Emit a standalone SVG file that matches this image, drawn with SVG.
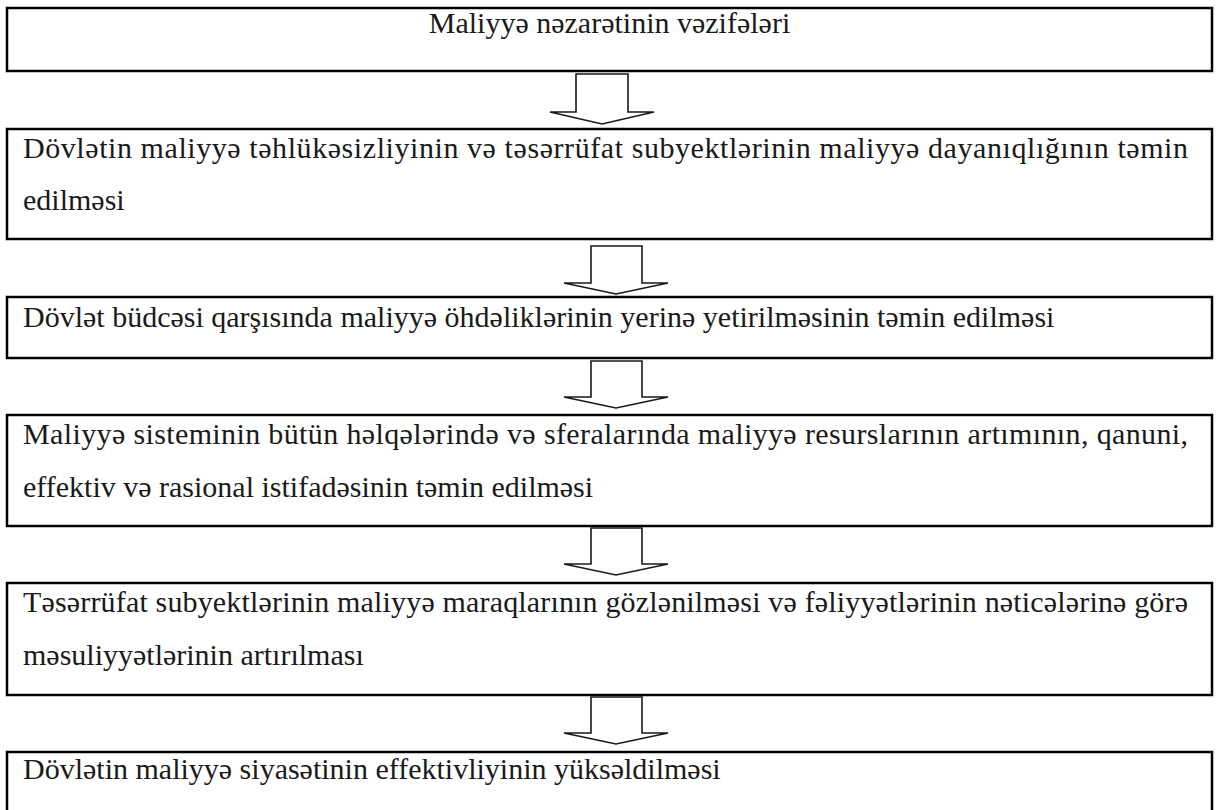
<svg xmlns="http://www.w3.org/2000/svg" width="1219" height="810" viewBox="0 0 1219 810">
<style>
  .box { fill: #ffffff; stroke: #000000; stroke-width: 2.5; }
  .t { font-family: "Liberation Serif", "Times New Roman", serif; font-size: 30px; fill: #1a1a1a; }
  .arrow { fill: #ffffff; stroke: #1a1a1a; stroke-width: 1.6; stroke-linejoin: miter; }
</style>
<rect x="0" y="0" width="1219" height="810" fill="#ffffff"/>

<g id="node-vezifeler">
  <rect class="box" x="7" y="8" width="1205" height="63"/>
  <text class="t" x="609.5" y="33" text-anchor="middle">Maliyyə nəzarətinin vəzifələri</text>
</g>

<g id="node-tehlukesizlik">
  <rect class="box" x="7" y="129" width="1205" height="110"/>
  <text class="t" x="23" y="158" textLength="1165" lengthAdjust="spacing">Dövlətin maliyyə təhlükəsizliyinin və təsərrüfat subyektlərinin maliyyə dayanıqlığının təmin</text>
  <text class="t" x="23" y="210">edilməsi</text>
</g>

<g id="node-budce">
  <rect class="box" x="7" y="297" width="1205" height="61"/>
  <text class="t" x="23" y="327">Dövlət büdcəsi qarşısında maliyyə öhdəliklərinin yerinə yetirilməsinin təmin edilməsi</text>
</g>

<g id="node-resurslar">
  <rect class="box" x="7" y="415" width="1205" height="111"/>
  <text class="t" x="23" y="444" textLength="1165" lengthAdjust="spacing">Maliyyə sisteminin bütün həlqələrində və sferalarında maliyyə resurslarının artımının, qanuni,</text>
  <text class="t" x="23" y="497">effektiv və rasional istifadəsinin təmin edilməsi</text>
</g>

<g id="node-maraqlar">
  <rect class="box" x="7" y="583" width="1205" height="112"/>
  <text class="t" x="23" y="612" textLength="1165" lengthAdjust="spacing">Təsərrüfat subyektlərinin maliyyə maraqlarının gözlənilməsi və fəliyyətlərinin nəticələrinə görə</text>
  <text class="t" x="23" y="665">məsuliyyətlərinin artırılması</text>
</g>

<g id="node-siyaset">
  <rect class="box" x="7" y="752" width="1205" height="70"/>
  <text class="t" x="23" y="779">Dövlətin maliyyə siyasətinin effektivliyinin yüksəldilməsi</text>
</g>

<g id="connectors">
  <path class="arrow" d="M576,74 H628 V112 H654 L602,124 L550,112 H576 Z"/>
  <path class="arrow" d="M591,246 H642 V283 H668 L616,294 L564,283 H591 Z"/>
  <path class="arrow" d="M591,361 H642 V397 H668 L616,408 L564,397 H591 Z"/>
  <path class="arrow" d="M591,528 H642 V564 H668 L616,575 L564,564 H591 Z"/>
  <path class="arrow" d="M591,697 H642 V733 H668 L616,744 L564,733 H591 Z"/>
</g>
</svg>
